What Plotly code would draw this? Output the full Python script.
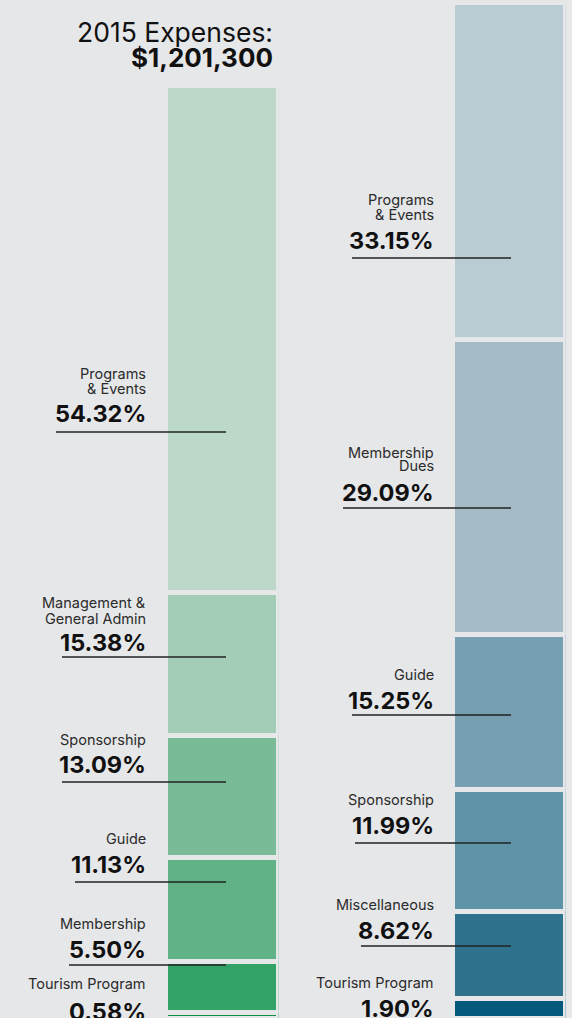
import plotly.graph_objects as go

# ---------------- data ----------------
left_categories = ["Programs & Events", "Management & General Admin", "Sponsorship",
                   "Guide", "Membership", "Tourism Program"]
left_values = [54.32, 15.38, 13.09, 11.13, 5.50, 0.58]
left_label_lines = [["Programs", "& Events"], ["Management &", "General Admin"],
                    ["Sponsorship"], ["Guide"], ["Membership"], ["Tourism Program"]]

right_categories = ["Programs & Events", "Membership Dues", "Guide", "Sponsorship",
                    "Miscellaneous", "Tourism Program"]
right_values = [33.15, 29.09, 15.25, 11.99, 8.62, 1.90]
right_label_lines = [["Programs", "& Events"], ["Membership", "Dues"], ["Guide"],
                     ["Sponsorship"], ["Miscellaneous"], ["Tourism Program"]]

title_line1 = "2015 Expenses:"
title_line2 = "$1,201,300"

# ---------------- style / layout ----------------
W, H = 572, 1018
BG = "#e6e7e9"
left_colors = ["#bcd8c9", "#a3cdb7", "#78bb96", "#61b387", "#33a266", "#0a8d45"]
right_colors = ["#b9ccd3", "#a4bbc6", "#76a0b1", "#5f93a8", "#2e728e", "#04587a"]
GAP = 5
FONT = "Inter"


def px(x):
    return x / W


def py(y):
    return 1 - y / H


fig = go.Figure()

for name, val, col in zip(left_categories, left_values, left_colors):
    fig.add_trace(go.Bar(x=[0], y=[val], width=1, name=name, xaxis="x", yaxis="y",
                         marker=dict(color=col, line=dict(color=BG, width=GAP)),
                         hoverinfo="name+y", showlegend=False))
for name, val, col in zip(right_categories, right_values, right_colors):
    fig.add_trace(go.Bar(x=[0], y=[val], width=1, name=name, xaxis="x2", yaxis="y2",
                         marker=dict(color=col, line=dict(color=BG, width=GAP)),
                         hoverinfo="name+y", showlegend=False))

half = GAP / 2
axis_common = dict(showgrid=False, zeroline=False, showticklabels=False,
                   showline=False, ticks="", fixedrange=True)
fig.update_layout(
    width=W, height=H, barmode="stack",
    paper_bgcolor=BG, plot_bgcolor="rgba(0,0,0,0)",
    margin=dict(l=0, r=0, t=0, b=0),
    xaxis=dict(domain=[px(168 - half), px(276 + half)], range=[-0.5, 0.5], **axis_common),
    yaxis=dict(domain=[0, py(88 - half)], range=[100, 0], **axis_common),
    xaxis2=dict(domain=[px(455 - half), px(563 + half)], range=[-0.5, 0.5],
                anchor="y2", **axis_common),
    yaxis2=dict(domain=[0, py(5 - half)], range=[100, 0], anchor="x2", **axis_common),
)

# label layout (pixel positions)
left_text_x = 148
right_text_x = 436
left_name_y = [[374, 388], [603, 618], [739], [838], [923], [984]]
left_pct_y = [414, 642, 764, 864, 949, 1011]
left_line_y = [432, 657, 782, 882, 965, None]
left_line_x0 = [56, 62, 62, 75, 69, None]
left_line_x1 = 226

right_name_y = [[200, 214], [452, 466], [674], [799], [904], [983]]
right_pct_y = [240, 492, 700, 825, 930, 1008]
right_line_y = [258, 508, 715, 843, 946, None]
right_line_x0 = [352, 343, 352, 355, 361, None]
right_line_x1 = 511

annotations = []
shapes = []


def add_labels(lines_list, values, name_ys, pct_ys, line_ys, line_x0s, line_x1, tx):
    for lines, val, nys, pyy, ly, lx0 in zip(lines_list, values, name_ys, pct_ys,
                                              line_ys, line_x0s):
        for txt, ny in zip(lines, nys):
            annotations.append(dict(
                text=txt, x=px(tx), y=py(ny), xref="paper", yref="paper",
                xanchor="right", yanchor="middle", showarrow=False,
                font=dict(family=FONT, size=14.5, color="#2b2b2b")))
        annotations.append(dict(
            text=f"<b>{val:.2f}%</b>", x=px(tx), y=py(pyy), xref="paper", yref="paper",
            xanchor="right", yanchor="middle", showarrow=False,
            font=dict(family=FONT, size=23.5, color="#111111")))
        if ly is not None:
            shapes.append(dict(type="line", xref="paper", yref="paper",
                               x0=px(lx0), x1=px(line_x1), y0=py(ly), y1=py(ly),
                               line=dict(color="#222222", width=1.5)))


add_labels(left_label_lines, left_values, left_name_y, left_pct_y, left_line_y,
           left_line_x0, left_line_x1, left_text_x)
add_labels(right_label_lines, right_values, right_name_y, right_pct_y, right_line_y,
           right_line_x0, right_line_x1, right_text_x)

annotations.append(dict(text=title_line1, x=px(275), y=py(32), xref="paper", yref="paper",
                        xanchor="right", yanchor="middle", showarrow=False,
                        font=dict(family=FONT, size=26.5, color="#111111")))
annotations.append(dict(text=f"<b>{title_line2}</b>", x=px(275), y=py(58), xref="paper",
                        yref="paper", xanchor="right", yanchor="middle", showarrow=False,
                        font=dict(family=FONT, size=26, color="#111111")))

fig.update_layout(annotations=annotations, shapes=shapes)

fig.write_html("out.html", config={"displayModeBar": False},
               post_script="document.body.style.margin='0';document.body.style.padding='0';"
                           "document.body.style.overflow='hidden';"
                           "document.body.style.background='" + BG + "';")
